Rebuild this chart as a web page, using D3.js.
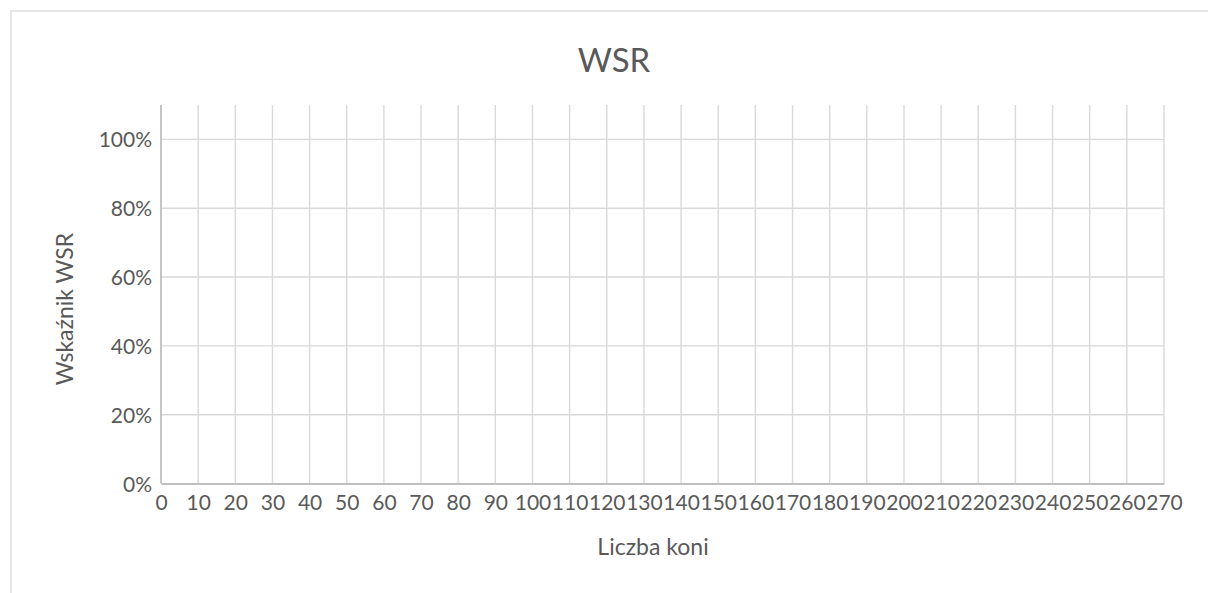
<!DOCTYPE html>
<html>
<head>
<meta charset="utf-8">
<script src="https://cdn.jsdelivr.net/npm/d3@7"></script>
<style>
  html, body { margin: 0; padding: 0; background: #fff; }
  svg { display: block; font-family: Lato, "Open Sans", sans-serif; }
</style>
</head>
<body>
<svg id="chart" width="1208" height="593"></svg>
<script>
// dane wykresu (seria jest pusta na wykresie źródłowym)
const liczbaKoni = [];
const wskaznikWSR = [];

const xTicks = d3.range(0, 280, 10);           // 0..270
const yTicks = [0, 0.2, 0.4, 0.6, 0.8, 1.0];
const xMax = 270;
const yMax = 1.1;

const tytul = 'WSR';
const tytulX = 'Liczba koni';
const tytulY = 'Wskaźnik WSR';

// 1. uklad
const svg = d3.select('#chart');
const plot = { left: 161, right: 1164, top: 105, bottom: 483.5 };
const textColor = '#595959';

const x = d3.scaleLinear().domain([0, xMax]).range([plot.left, plot.right]);
const y = d3.scaleLinear().domain([0, yMax]).range([plot.bottom, plot.top]);

// ramka obszaru wykresu
svg.append('rect')
  .attr('x', 11).attr('y', 11)
  .attr('width', 1206).attr('height', 600)
  .attr('fill', 'none')
  .attr('stroke', '#d9d9d9')
  .attr('stroke-width', 1.3);

// 2. siatka
const grid = svg.append('g').attr('class', 'grid');
grid.selectAll('line.v')
  .data(xTicks.filter(d => d > 0))
  .enter().append('line')
  .attr('class', 'v')
  .attr('x1', d => x(d)).attr('x2', d => x(d))
  .attr('y1', y(yMax)).attr('y2', y(0))
  .attr('stroke', '#d9d9d9').attr('stroke-width', 1.4);

grid.selectAll('line.h')
  .data(yTicks.filter(d => d > 0))
  .enter().append('line')
  .attr('class', 'h')
  .attr('x1', x(0)).attr('x2', x(xMax))
  .attr('y1', d => y(d)).attr('y2', d => y(d))
  .attr('stroke', '#d9d9d9').attr('stroke-width', 1.4);

// 3. osie
const xAxis = svg.append('g')
  .attr('transform', `translate(0,${y(0)})`)
  .call(d3.axisBottom(x).tickValues(xTicks).tickSize(0).tickPadding(0).tickFormat(d3.format('d')))
  .attr('font-family', null).attr('font-size', null);
xAxis.select('.domain').attr('stroke', '#bfbfbf').attr('stroke-width', 1.8);
xAxis.selectAll('text')
  .attr('y', 26.5).attr('dy', null)
  .attr('fill', textColor)
  .style('font-size', '21px');

const yAxis = svg.append('g')
  .attr('transform', `translate(${x(0)},0)`)
  .call(d3.axisLeft(y).tickValues(yTicks).tickSize(0).tickPadding(0).tickFormat(d3.format('.0%')))
  .attr('font-family', null).attr('font-size', null);
yAxis.select('.domain')
  .attr('d', `M0,${y(yMax)}V${y(0)}`)
  .attr('stroke', '#bfbfbf').attr('stroke-width', 1.8);
yAxis.selectAll('text')
  .attr('x', -9).attr('dy', '0.36em')
  .attr('fill', textColor)
  .style('font-size', '21px');

// 4. seria (pusta)
svg.append('g').attr('class', 'series')
  .selectAll('circle')
  .data(liczbaKoni.map((d, i) => ({ x: d, y: wskaznikWSR[i] })))
  .enter().append('circle')
  .attr('cx', d => x(d.x)).attr('cy', d => y(d.y))
  .attr('r', 4).attr('fill', '#4472c4');

// 5. tytuly
svg.append('text')
  .attr('x', 614).attr('y', 72)
  .attr('text-anchor', 'middle')
  .attr('fill', textColor)
  .style('font-size', '33px')
  .text(tytul);

svg.append('text')
  .attr('x', 653).attr('y', 555)
  .attr('text-anchor', 'middle')
  .attr('fill', textColor)
  .style('font-size', '23px')
  .text(tytulX);

svg.append('text')
  .attr('transform', 'translate(73,309) rotate(-90)')
  .attr('text-anchor', 'middle')
  .attr('fill', textColor)
  .style('font-size', '23px')
  .text(tytulY);
</script>
</body>
</html>
